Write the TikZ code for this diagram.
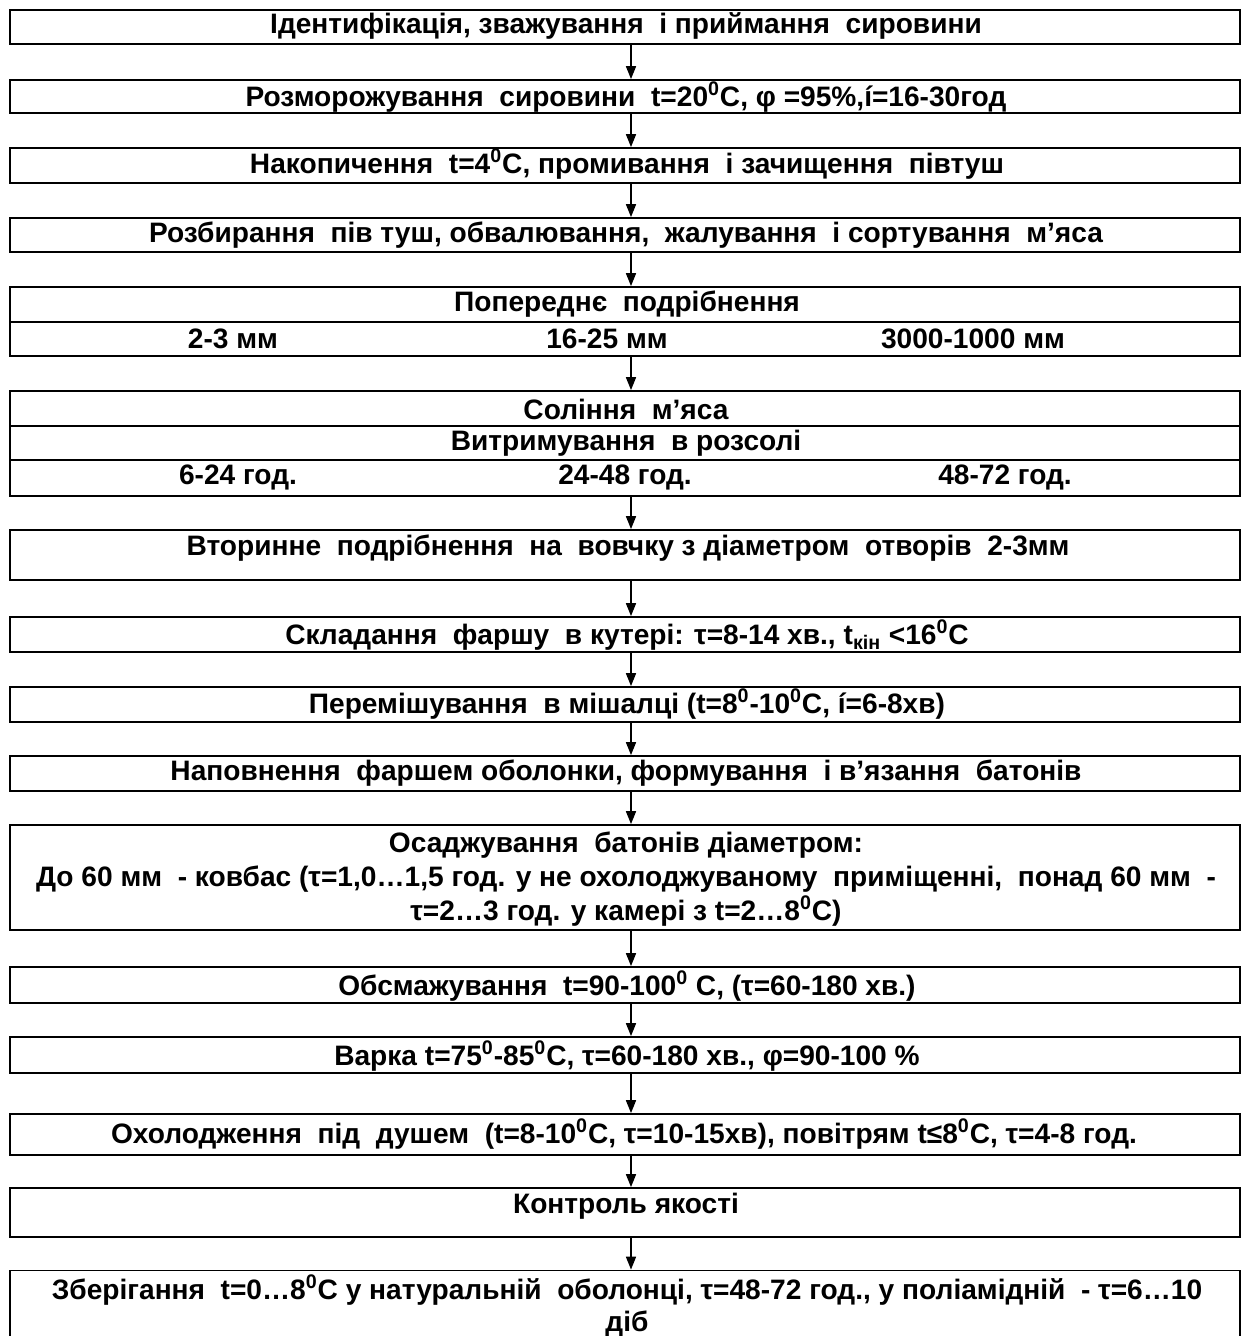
\documentclass[tikz,border=0pt]{standalone}
\usepackage{fontspec}
\setmainfont{Liberation Sans}
\usepackage{tikz}
\usetikzlibrary{arrows.meta,positioning}

\begin{document}
\begin{tikzpicture}[x=0.02cm,y=-0.02cm,>={Triangle[length=0.26cm,width=0.2cm]},
    font=\bfseries\fontsize{16}{19}\selectfont]
        \tikzstyle{stage}=[draw, line width=1pt, minimum width=24.6cm, inner sep=0pt]
        \tikzstyle{flow}=[->, line width=0.9pt]
        \useasboundingbox (0,0) rectangle (1241,1336);

        % Stage boxes
        \node (s1)[stage, minimum height=0.68cm] at (625,27) {};
        \node (s2)[stage, minimum height=0.66cm] at (625,96.5) {};
        \node (s3)[stage, minimum height=0.70cm] at (625,165.5) {};
        \node (s4)[stage, minimum height=0.68cm] at (625,235) {};
        \node (s5)[stage, minimum height=1.38cm] at (625,321.5) {};
        \node (s6)[stage, minimum height=2.10cm] at (625,443.5) {};
        \node (s7)[stage, minimum height=1.00cm] at (625,555) {};
        \node (s8)[stage, minimum height=0.70cm] at (625,634.5) {};
        \node (s9)[stage, minimum height=0.70cm] at (625,704.5) {};
        \node (s10)[stage, minimum height=0.70cm] at (625,773.5) {};
        \node (s11)[stage, minimum height=2.10cm] at (625,877.5) {};
        \node (s12)[stage, minimum height=0.72cm] at (625,985) {};
        \node (s13)[stage, minimum height=0.72cm] at (625,1055) {};
        \node (s14)[stage, minimum height=0.82cm] at (625,1134.5) {};
        \node (s15)[stage, minimum height=0.98cm] at (625,1212.5) {};
        \node (s16)[stage, minimum height=1.42cm] at (625,1306) {};

        % Row dividers
        \draw[line width=1pt] (s5.west |- 0,322) -- (s5.east |- 0,322);
        \draw[line width=1pt] (s6.west |- 0,426) -- (s6.east |- 0,426);
        \draw[line width=1pt] (s6.west |- 0,460) -- (s6.east |- 0,460);

        % Texts
        \node (t1) at (626,26) {Ідентифікація,\ зважування\ \ і\ приймання\ \ сировини};
        \node (t2) at (626,97) {Розморожування\ \ сировини\ \ t=20\textsuperscript{0}C, φ =95\%,í=16-30год};
        \node (t3) at (627,164) {Накопичення\ \ t=4\textsuperscript{0}C, промивання\ \ і зачищення\ \ півтуш};
        \node (t4) at (626,235) {Розбирання\ \ пів туш, обвалювання,\ \ жалування\ \ і сортування\ \ м’яса};
        \node (t5) at (627,304) {Попереднє\ \ подрібнення};
        \node (v51) at (233,339) {2-3 мм};
        \node (v52) at (607,339) {16-25 мм};
        \node (v53) at (973,339) {3000-1000 мм};
        \node (t6) at (626,409) {Соління\ \ м’яса};
        \node (t6b) at (626,443) {Витримування\ \ в розсолі};
        \node (v61) at (238,477) {6-24 год.};
        \node (v62) at (625,477) {24-48 год.};
        \node (v63) at (1005,477) {48-72 год.};
        \node (t7) at (628,548) {Вторинне\ \ подрібнення\ \ на\ \ вовчку з діаметром\ \ отворів\ \ 2-3мм};
        \node (t8) at (627,635) {Складання\ \ фаршу\ \ в кутері: τ=8-14 хв., t\textsubscript{кін} <16\textsuperscript{0}C};
        \node (t9) at (627,704) {Перемішування\ \ в мішалці (t=8\textsuperscript{0}-10\textsuperscript{0}C, í=6-8хв)};
        \node (t10) at (626,773) {Наповнення\ \ фаршем\ оболонки, формування\ \ і в’язання\ \ батонів};
        \node (t11)[align=center, font=\bfseries\fontsize{16}{19.2}\selectfont] at (626,879)
            {Осаджування\ \ батонів діаметром:\\
             До 60 мм\ \ - ковбас (τ=1,0…1,5 год. у не охолоджуваному\ \ приміщенні,\ \ понад 60 мм\ \ -\\
             τ=2…3 год. у камері з t=2…8\textsuperscript{0}C)};
        \node (t12) at (627,986) {Обсмажування\ \ t=90-100\textsuperscript{0} C, (τ=60-180 хв.)};
        \node (t13) at (627,1056) {Варка t=75\textsuperscript{0}-85\textsuperscript{0}C, τ=60-180 хв., φ=90-100 \%};
        \node (t14) at (624,1134) {Охолодження\ \ під\ \ душем\ \ (t=8-10\textsuperscript{0}C, τ=10-15хв), повітрям t≤8\textsuperscript{0}C, τ=4-8 год.};
        \node (t15) at (626,1206) {Контроль якості};
        \node (t16)[align=center, font=\bfseries\fontsize{16}{18}\selectfont] at (627,1306)
            {Зберігання\ \ t=0…8\textsuperscript{0}C у натуральній\ \ оболонці, τ=48-72 год., у поліамідній\ \ - τ=6…10\\
             діб};

        % --- Arrows between stages ---
        \coordinate (ax) at (631,0);
        \draw[flow] (s1.south -| ax) -- (s2.north -| ax);
        \draw[flow] (s2.south -| ax) -- (s3.north -| ax);
        \draw[flow] (s3.south -| ax) -- (s4.north -| ax);
        \draw[flow] (s4.south -| ax) -- (s5.north -| ax);
        \draw[flow] (s5.south -| ax) -- (s6.north -| ax);
        \draw[flow] (s6.south -| ax) -- (s7.north -| ax);
        \draw[flow] (s7.south -| ax) -- (s8.north -| ax);
        \draw[flow] (s8.south -| ax) -- (s9.north -| ax);
        \draw[flow] (s9.south -| ax) -- (s10.north -| ax);
        \draw[flow] (s10.south -| ax) -- (s11.north -| ax);
        \draw[flow] (s11.south -| ax) -- (s12.north -| ax);
        \draw[flow] (s12.south -| ax) -- (s13.north -| ax);
        \draw[flow] (s13.south -| ax) -- (s14.north -| ax);
        \draw[flow] (s14.south -| ax) -- (s15.north -| ax);
        \draw[flow] (s15.south -| ax) -- (s16.north -| ax);
    \end{tikzpicture}
\end{document}
